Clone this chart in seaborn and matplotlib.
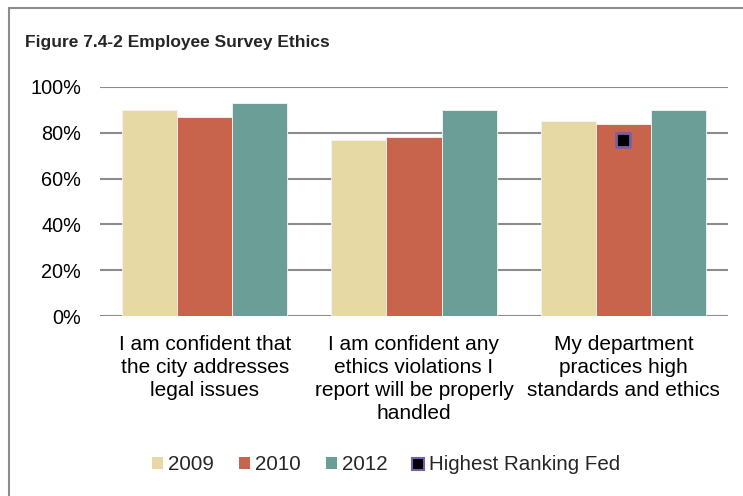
import matplotlib
matplotlib.use("Agg")
import matplotlib.pyplot as plt
import matplotlib.patches as mpatches
from matplotlib.lines import Line2D
import seaborn as sns
import pandas as pd

# ---- data ----
categories = [
    "I am confident that\nthe city addresses\nlegal issues",
    "I am confident any\nethics violations I\nreport will be properly\nhandled",
    "My department\npractices high\nstandards and ethics",
]
years = ["2009", "2010", "2012"]
values_2009 = [90, 77, 85]
values_2010 = [87, 78, 84]
values_2012 = [93, 90, 90]
fed_category = categories[2]
fed_value = [77]
y_ticks = [0, 20, 40, 60, 80, 100]
title = "Figure 7.4-2 Employee Survey Ethics"
fed_label = "Highest Ranking Fed"

colors = {"2009": "#E6D9A4", "2010": "#C8644C", "2012": "#6B9E97"}

rows = []
for yr, vals in zip(years, [values_2009, values_2010, values_2012]):
    for c, v in zip(categories, vals):
        rows.append({"category": c, "year": yr, "value": v})
df = pd.DataFrame(rows)
fed_df = pd.DataFrame({"category": [fed_category], "value": fed_value})

sns.set_style("white")
plt.rcParams["font.family"] = ["Liberation Sans", "DejaVu Sans"]

fig = plt.figure(figsize=(7.43, 4.96), dpi=100)
ax = fig.add_axes([100 / 743, 1 - 316 / 496, 628 / 743, 229 / 496])

sns.barplot(data=df, x="category", y="value", hue="year", order=categories,
            hue_order=years, palette=colors, saturation=1, width=0.79, gap=0,
            edgecolor="#f4f4f4", linewidth=0.6, ax=ax, legend=False, zorder=3)

sns.stripplot(data=fed_df, x="category", y="value", order=categories,
              jitter=False, marker="s", s=10, color="black",
              edgecolor="#7A5FA6", linewidth=2, ax=ax, zorder=5)

ax.set_ylim(0, 100)
ax.set_xlim(-0.5, 2.5)
ax.set_yticks(y_ticks)
ax.set_yticklabels([f"{t}%" for t in y_ticks])
ax.set_xticks(range(len(categories)))
ax.set_xticklabels(categories, linespacing=1.28, ha="center")
for t in y_ticks:
    ax.axhline(t, color="#8c8c8c", linewidth=1.5, zorder=1)
for s in ax.spines.values():
    s.set_visible(False)
ax.set_xlabel("")
ax.set_ylabel("")
ax.tick_params(axis="y", length=0, pad=13.5, labelsize=14.3, colors="black")
ax.tick_params(axis="x", length=0, pad=13.5, labelsize=15, colors="black")

fig.text(25 / 743, 1 - 42 / 496, title, fontsize=12.5, fontweight="bold",
         va="center", ha="left")

handles = [mpatches.Patch(facecolor=colors[y], edgecolor="none") for y in years]
handles.append(Line2D([], [], marker="s", linestyle="none", markersize=8,
                      markerfacecolor="black", markeredgecolor="#7A5FA6",
                      markeredgewidth=1.5))
leg = fig.legend(handles, years + [fed_label], loc="center",
                 bbox_to_anchor=(386 / 743, 1 - 465 / 496), ncol=4,
                 frameon=False, fontsize=14.8, handlelength=0.55,
                 handleheight=0.55, handletextpad=0.25, columnspacing=1.2)

frame = mpatches.Rectangle((9 / 743, -0.2), 1.2, 0.2 + 1 - 8 / 496,
                           transform=fig.transFigure, fill=False,
                           edgecolor="#8c8c8c", linewidth=1.5)
fig.patches.append(frame)

fig.savefig("out.png", dpi=100)
